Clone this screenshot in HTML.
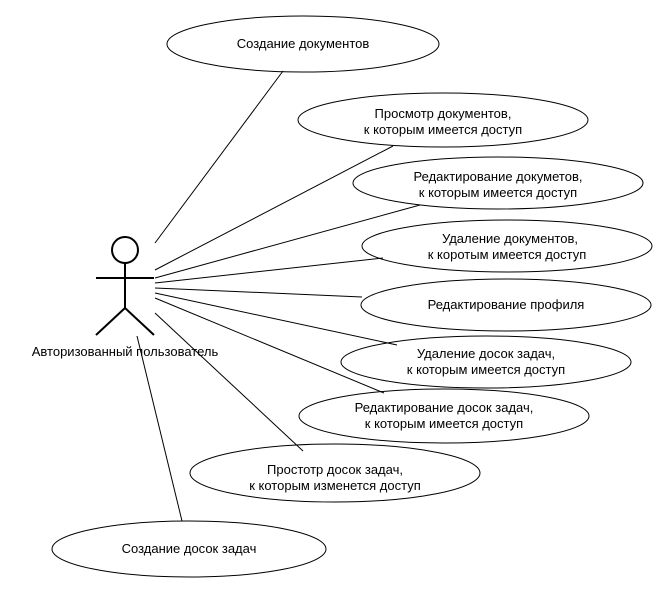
<!DOCTYPE html>
<html><head><meta charset="utf-8"><style>
html,body{margin:0;padding:0;background:#fff;}
svg text{font-family:"Liberation Sans",Arial,sans-serif;font-size:13px;fill:#000;}
</style></head><body>
<svg width="663" height="587" viewBox="0 0 663 587" xmlns="http://www.w3.org/2000/svg">
<g fill="none" stroke="#000" stroke-width="1">
<ellipse cx="303" cy="44" rx="136" ry="28"/>
<ellipse cx="443" cy="120" rx="145" ry="27"/>
<ellipse cx="498" cy="183" rx="145" ry="26"/>
<ellipse cx="507" cy="246" rx="145" ry="26"/>
<ellipse cx="506" cy="305" rx="145" ry="26"/>
<ellipse cx="486" cy="362" rx="145" ry="26"/>
<ellipse cx="444" cy="416" rx="145" ry="27"/>
<ellipse cx="335" cy="473" rx="145" ry="29"/>
<ellipse cx="189" cy="549" rx="137" ry="28"/>
<line x1="155" y1="243" x2="283" y2="71"/>
<line x1="155" y1="270" x2="393" y2="146"/>
<line x1="155" y1="278" x2="420" y2="205"/>
<line x1="155" y1="283" x2="383" y2="258"/>
<line x1="155" y1="288" x2="362" y2="297"/>
<line x1="155" y1="293" x2="397" y2="345"/>
<line x1="155" y1="298" x2="384" y2="393"/>
<line x1="155" y1="313" x2="303" y2="451"/>
<line x1="137" y1="336" x2="182" y2="521"/>
</g>
<g fill="none" stroke="#000" stroke-width="2">
<circle cx="125" cy="250" r="13"/>
<line x1="125" y1="263" x2="125" y2="308"/>
<line x1="96" y1="278" x2="154" y2="278"/>
<line x1="125" y1="308" x2="96" y2="335"/>
<line x1="125" y1="308" x2="154" y2="335"/>
</g>
<text x="125" y="356" text-anchor="middle">Авторизованный пользователь</text>
<text x="303" y="48" text-anchor="middle">Создание документов</text>
<text x="443" y="118" text-anchor="middle">Просмотр документов,</text>
<text x="443" y="134" text-anchor="middle">к которым имеется доступ</text>
<text x="498" y="181" text-anchor="middle">Редактирование докуметов,</text>
<text x="498" y="197" text-anchor="middle">к которым имеется доступ</text>
<text x="510" y="243" text-anchor="middle">Удаление документов,</text>
<text x="507" y="259" text-anchor="middle">к коротым имеется доступ</text>
<text x="506" y="309" text-anchor="middle">Редактирование профиля</text>
<text x="486" y="358" text-anchor="middle">Удаление досок задач,</text>
<text x="486" y="374" text-anchor="middle">к которым имеется доступ</text>
<text x="444" y="412" text-anchor="middle">Редактирование досок задач,</text>
<text x="444" y="428" text-anchor="middle">к которым имеется доступ</text>
<text x="335" y="474" text-anchor="middle">Простотр досок задач,</text>
<text x="335" y="490" text-anchor="middle">к которым изменется доступ</text>
<text x="189" y="553" text-anchor="middle">Создание досок задач</text>
</svg>
</body></html>
